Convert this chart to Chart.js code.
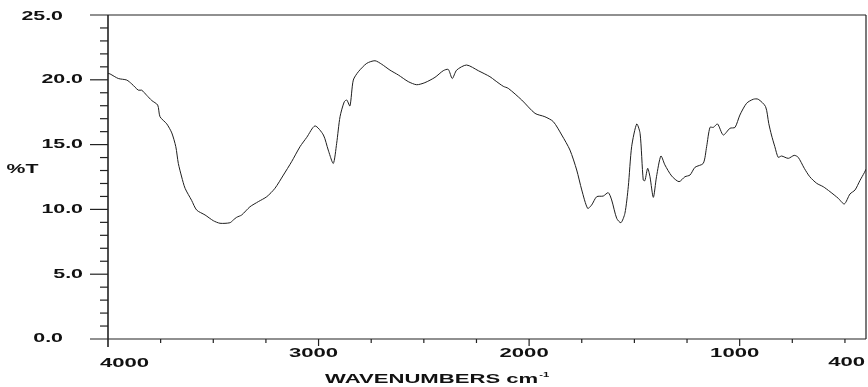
<!DOCTYPE html>
<html lang="en">
<head>
  <meta charset="UTF-8" />
  <title>IR spectrum</title>
  <script src="https://cdn.jsdelivr.net/npm/chart.js"></script>
  <style>
    html, body { margin: 0; padding: 0; background: #fff; overflow: hidden; }
    canvas { display: block; }
  </style>
</head>
<body>
  <canvas id="spectrum" width="868" height="387"></canvas>

  <script>
    // spectrum (cm-1, %T)
    const wavenumbers = [
      4000, 3990, 3951, 3911, 3887, 3856, 3840, 3816, 3792, 3764, 3753, 3721, 3697, 3678, 3666, 3650,
      3634, 3603, 3579, 3539, 3500, 3468, 3421, 3405, 3389, 3365, 3326, 3286, 3246, 3207, 3167, 3128,
      3088, 3056, 3017, 2977, 2954, 2930, 2914, 2898, 2878, 2866, 2851, 2835, 2811, 2771, 2732, 2700,
      2661, 2621, 2574, 2534, 2495, 2447, 2408, 2384, 2365, 2344, 2297, 2241, 2186, 2162, 2123, 2099,
      2035, 1972, 1925, 1885, 1845, 1806, 1774, 1750, 1722, 1703, 1679, 1648, 1624, 1608, 1584, 1564,
      1545, 1529, 1513, 1489, 1473, 1458, 1450, 1437, 1426, 1410, 1395, 1374, 1355, 1323, 1288, 1260,
      1236, 1212, 1173, 1157, 1141, 1125, 1105, 1078, 1046, 1022, 999, 967, 935, 912, 877, 862,
      849, 833, 817, 801, 769, 741, 722, 693, 667, 634, 603, 571, 532, 503, 476, 452,
      429, 408, 400
    ];
    const transmittance = [
      20.5, 20.45, 20.1, 19.98, 19.68, 19.2, 19.2, 18.8, 18.4, 18.05, 17.15, 16.6, 15.9, 14.84, 13.55, 12.5,
      11.63, 10.7, 9.95, 9.57, 9.13, 8.93, 8.97, 9.18, 9.39, 9.57, 10.2, 10.6, 10.98, 11.63, 12.65, 13.68,
      14.84, 15.56, 16.44, 15.74, 14.58, 13.55, 15.1, 17.15, 18.3, 18.44, 17.98, 19.98, 20.62, 21.27, 21.47, 21.2,
      20.75, 20.37, 19.86, 19.62, 19.78, 20.19, 20.7, 20.8, 20.1, 20.75, 21.14, 20.7, 20.24, 19.95, 19.5, 19.34,
      18.44, 17.41, 17.15, 16.77, 15.74, 14.58, 13.04, 11.5, 10.08, 10.34, 10.98, 11.03, 11.29, 10.73, 9.31, 8.97,
      9.7, 11.75, 14.84, 16.59, 15.87, 12.27, 12.22, 13.17, 12.52, 10.93, 12.52, 14.12, 13.43, 12.58, 12.14, 12.52,
      12.65, 13.25, 13.55, 14.84, 16.33, 16.33, 16.59, 15.74, 16.26, 16.33, 17.28, 18.19, 18.5, 18.5, 17.93, 16.64,
      15.74, 14.84, 14.02, 14.12, 13.94, 14.17, 14.02, 13.17, 12.52, 12.01, 11.75, 11.37, 10.86, 10.42, 11.19, 11.5,
      12.22, 12.83, 13.1
    ];

    const yTickValues = [0, 5, 10, 15, 20, 25];
    const yTickLabels = ['0.0', '5.0', '10.0', '15.0', '20.0', '25.0'];
    const xTickValues = [4000, 3000, 2000, 1000, 400];
    const xTickLabels = ['4000', '3000', '2000', '1000', '400'];

    const FONT = '"Liberation Sans", Arial, sans-serif';

    // old plotter lettering is wide, so squash it out horizontally
    function wideText(ctx, text, px, py, align, size, sx) {
      ctx.save();
      ctx.translate(px, py);
      ctx.scale(sx, 1);
      ctx.font = `bold ${size}px ${FONT}`;
      ctx.textAlign = align;
      ctx.textBaseline = 'middle';
      ctx.fillText(text, 0, 0);
      const w = ctx.measureText(text).width * sx;
      ctx.restore();
      return w;
    }

    function line(ctx, x1, y1, x2, y2) {
      ctx.beginPath();
      ctx.moveTo(x1, y1);
      ctx.lineTo(x2, y2);
      ctx.stroke();
    }

    const framePlugin = {
      id: 'frame',
      afterDraw(chart) {
        const { ctx, chartArea: a } = chart;
        const xs = chart.scales.x, ys = chart.scales.y;
        ctx.save();
        ctx.strokeStyle = '#222';
        ctx.fillStyle = '#111';
        ctx.lineWidth = 1.2;

        // box: top and bottom run out to the major tick length
        line(ctx, a.left - 18, a.top, a.right, a.top);
        line(ctx, a.left - 18, a.bottom, a.right, a.bottom);
        line(ctx, a.right, a.top, a.right, a.bottom);
        ctx.lineWidth = 1.6;
        line(ctx, a.left, a.top, a.left, a.bottom + 8);
        ctx.lineWidth = 1.2;

        // y ticks
        for (let v = 1; v < 25; v++) {
          const py = ys.getPixelForValue(v);
          line(ctx, a.left - (v % 5 === 0 ? 18 : 8), py, a.left, py);
        }
        // x ticks every 250
        for (let v = 3750; v >= 500; v -= 250) {
          const px = xs.getPixelForValue(v);
          line(ctx, px, a.bottom, px, a.bottom + (v % 1000 === 0 ? 7 : 4));
        }

        // y labels (end labels sit further out)
        yTickValues.forEach((v, i) => {
          const py = ys.getPixelForValue(v);
          const end = i === 0 || i === yTickValues.length - 1;
          wideText(ctx, yTickLabels[i], end ? a.left - 45 : a.left - 25, py + (v === 25 ? 1.5 : 0), 'right', 12, 1.78);
        });

        // x labels (end labels dropped lower)
        xTickValues.forEach((v, i) => {
          const px = xs.getPixelForValue(v);
          if (i === 0) {
            wideText(ctx, xTickLabels[i], a.left - 8, a.bottom + 24, 'left', 13, 1.7);
          } else if (i === xTickValues.length - 1) {
            wideText(ctx, xTickLabels[i], a.right - 1, a.bottom + 23, 'right', 13, 1.7);
          } else {
            wideText(ctx, xTickLabels[i], px - 5, a.bottom + 14, 'center', 13, 1.7);
          }
        });

        // axis titles
        wideText(ctx, '%T', 22.5, 170, 'center', 12.5, 1.7);
        const tw = wideText(ctx, 'WAVENUMBERS cm', 325, a.bottom + 40, 'left', 13, 1.7);
        wideText(ctx, '-1', 325 + tw + 1, a.bottom + 36, 'left', 8, 1.4);

        ctx.restore();
      }
    };

    new Chart(document.getElementById('spectrum'), {
      type: 'line',
      data: {
        datasets: [{
          data: wavenumbers.map((w, i) => ({ x: w, y: transmittance[i] })),
          borderColor: '#1e1e1e',
          borderWidth: 1,
          pointRadius: 0,
          tension: 0.25,
          fill: false
        }]
      },
      options: {
        responsive: false,
        animation: false,
        layout: { padding: { left: 108, right: 2, top: 15, bottom: 48 } },
        scales: {
          x: { type: 'linear', reverse: true, min: 400, max: 4000, display: false },
          y: { type: 'linear', min: 0, max: 25, display: false }
        },
        plugins: { legend: { display: false }, tooltip: { enabled: false } }
      },
      plugins: [framePlugin]
    });
  </script>
</body>
</html>
